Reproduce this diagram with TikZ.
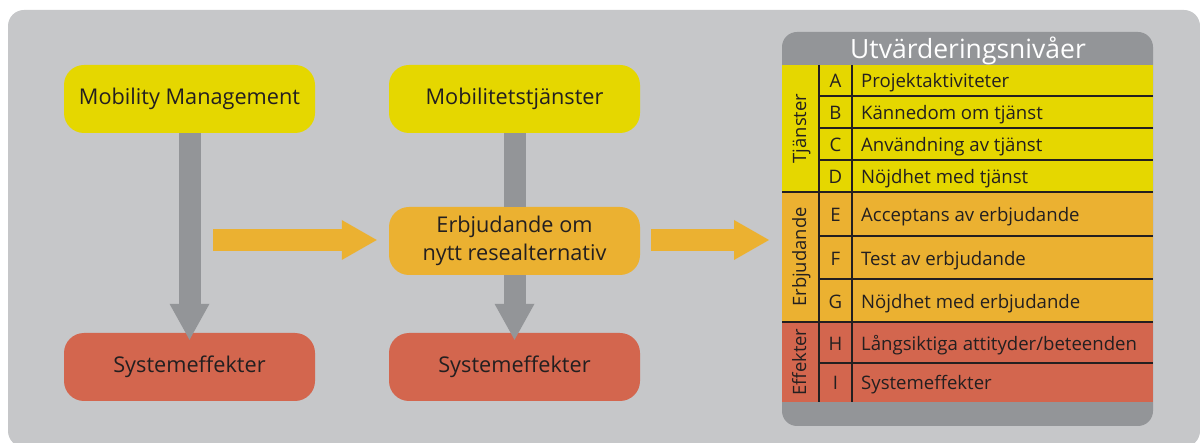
\documentclass[tikz,border=0pt]{standalone}
\usepackage{fontspec}
\setmainfont{Open Sans}
\usetikzlibrary{arrows.meta}
\definecolor{bggrey}{HTML}{C6C7C9}
\definecolor{darkgrey}{HTML}{939598}
\definecolor{tjyellow}{HTML}{E5D700}
\definecolor{erorange}{HTML}{EBB131}
\definecolor{efred}{HTML}{D3664E}
\definecolor{ink}{HTML}{231F20}
\tikzset{box/.style = {rounded corners=20pt, minimum width=251pt, minimum height=68pt,
                       inner sep=0pt, align=center, text=ink,
                       font=\fontsize{21.7}{28}\selectfont},
         downarrow/.style = {draw=darkgrey, line width=22pt,
                             -{Triangle[length=36pt, width=40pt, line width=0pt]}},
         rightarrow/.style = {draw=erorange, line width=22pt,
                              -{Triangle[length=35pt, width=40pt, line width=0pt]}},
         level/.style = {anchor=west, inner sep=0pt, text=ink, text height=13.3pt,
                         text depth=0pt, font=\fontsize{18.6}{22}\selectfont},
         letter/.style = {inner sep=0pt, text=ink, text height=13.3pt, text depth=0pt,
                          font=\fontsize{18.6}{22}\selectfont},
         group/.style = {rotate=90, inner sep=0pt, text=ink, text height=13.1pt,
                         text depth=0pt, font=\fontsize{18.4}{22}\selectfont},
         tabline/.style = {draw=ink, line width=1.2pt}}

\begin{document}
\begin{tikzpicture}[x=1pt, y=-1pt]
    \useasboundingbox (0, 0) rectangle (1200, 443);
    \clip (0, 0) rectangle (1200, 443);
    \fill [bggrey, rounded corners=16pt] (8, 10) rectangle (1200, 447);

    \node [box, fill=tjyellow] (mm) at (189.5, 99) {Mobility Management};
    \node [box, fill=tjyellow] (mt) at (514.5, 99) {Mobilitetstjänster};
    \node [box, fill=erorange] (erb) at (514.5, 241) {Erbjudande om\\nytt resealternativ};
    \node [box, fill=efred] (se1) at (189.5, 367) {Systemeffekter};
    \node [box, fill=efred] (se2) at (514.5, 367) {Systemeffekter};

    \draw [downarrow] (mm.south) -- ([yshift=-7pt]se1.north);
    \draw [darkgrey, line width=22pt] (mt.south) -- (erb.north);
    \draw [downarrow] (erb.south) -- ([yshift=-7pt]se2.north);
    \coordinate (start) at (213, 240);
    \coordinate (tabin) at (769, 240);
    \draw [rightarrow] (start) -- ([xshift=-12pt]erb.west |- start);
    \draw [rightarrow] ([xshift=11pt]erb.east |- start) -- (tabin);

    \fill [darkgrey, rounded corners=15pt] (782, 32) rectangle (1153, 426);
    \fill [tjyellow] (782, 65) rectangle (1153, 192);
    \fill [erorange] (782, 192) rectangle (1153, 322);
    \fill [efred] (782, 322) rectangle (1153, 402);
    \node [text=white, inner sep=0pt, text height=18.9pt, text depth=0pt,
           font=\fontsize{26.5}{30}\selectfont] (head) at (968, 49) {Utvärderingsnivåer};

    \draw [tabline] (819, 65) -- (819, 402);
    \draw [tabline] (852, 65) -- (852, 402);
    \draw [tabline] (819, 96) -- (1153, 96);
    \draw [tabline] (819, 128) -- (1153, 128);
    \draw [tabline] (819, 160) -- (1153, 160);
    \draw [tabline] (782, 192) -- (1153, 192);
    \draw [tabline] (819, 236) -- (1153, 236);
    \draw [tabline] (819, 279) -- (1153, 279);
    \draw [tabline] (782, 322) -- (1153, 322);
    \draw [tabline] (819, 363) -- (1153, 363);

    \node [group] (tj) at (799.5, 128.5) {Tjänster};
    \node [group] (er) at (799.5, 257) {Erbjudande};
    \node [group] (ef) at (799.5, 362) {Effekter};

    \node [letter] (la) at (835.5, 81) {A};
    \node [letter] (lb) at (835.5, 113) {B};
    \node [letter] (lc) at (835.5, 145) {C};
    \node [letter] (ld) at (835.5, 177) {D};
    \node [letter] (le) at (835.5, 215) {E};
    \node [letter] (lf) at (835.5, 258.5) {F};
    \node [letter] (lg) at (835.5, 301.5) {G};
    \node [letter] (lh) at (835.5, 343.5) {H};
    \node [letter] (li) at (835.5, 383) {I};

    \node [level] (ra) at (861, 81) {Projektaktiviteter};
    \node [level] (rb) at (861, 113) {Kännedom om tjänst};
    \node [level] (rc) at (861, 145) {Användning av tjänst};
    \node [level] (rd) at (861, 177) {Nöjdhet med tjänst};
    \node [level] (re) at (861, 215) {Acceptans av erbjudande};
    \node [level] (rf) at (861, 258.5) {Test av erbjudande};
    \node [level] (rg) at (861, 301.5) {Nöjdhet med erbjudande};
    \node [level] (rh) at (861, 343.5) {Långsiktiga attityder/beteenden};
    \node [level] (ri) at (861, 383) {Systemeffekter};
\end{tikzpicture}
\end{document}
